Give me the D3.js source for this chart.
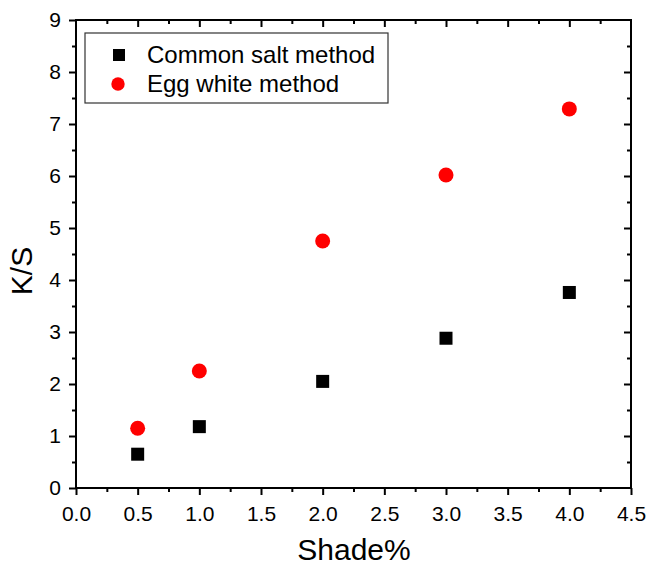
<!DOCTYPE html>
<html>
<head>
<meta charset="utf-8">
<script src="https://cdn.jsdelivr.net/npm/d3@7"></script>
<style>
body { margin: 0; background: #fff; }
text { font-family: "Liberation Sans", Arial, sans-serif; }
</style>
</head>
<body>
<script>
var shade = [0.5, 1, 2, 3, 4];
var saltKS = [0.65, 1.18, 2.05, 2.88, 3.76];
var eggKS = [1.15, 2.25, 4.75, 6.02, 7.29];
var seriesNames = ["Common salt method", "Egg white method"];
var xTicks = [0, 0.5, 1, 1.5, 2, 2.5, 3, 3.5, 4, 4.5];
var yTicks = [0, 1, 2, 3, 4, 5, 6, 7, 8, 9];

var width = 646, height = 567;
var plotL = 76, plotR = 631, plotT = 20, plotB = 488;

var svg = d3.select("body").append("svg")
    .attr("width", width)
    .attr("height", height);

var x = d3.scaleLinear().domain([0, 4.5]).range([plotL, plotR]);
var y = d3.scaleLinear().domain([0, 9]).range([plotB, plotT]);

var xMinor = d3.range(0.25, 4.5, 0.5);
var yMinor = d3.range(0.5, 9, 1);

// frame
svg.append("rect")
  .attr("x", plotL).attr("y", plotT)
  .attr("width", plotR - plotL).attr("height", plotB - plotT)
  .style("fill", "none").style("stroke", "#000").style("stroke-width", 2);

function axisG(axis, tx, ty) {
  var g = svg.append("g").attr("transform", "translate(" + tx + "," + ty + ")").call(axis);
  g.select(".domain").remove();
  g.selectAll("line").style("stroke", "#000").style("stroke-width", 2);
  g.selectAll("text").style("font-size", "21px").style("fill", "#000")
    .style("font-family", "'Liberation Sans', Arial, sans-serif");
  return g;
}

// bottom
axisG(d3.axisBottom(x).tickValues(xTicks).tickFormat(d3.format(".1f")).tickSize(7).tickPadding(11), 0, plotB);
axisG(d3.axisBottom(x).tickValues(xMinor).tickFormat("").tickSize(4), 0, plotB);
// left
axisG(d3.axisLeft(y).tickValues(yTicks).tickSize(7).tickPadding(8), plotL, 0);
axisG(d3.axisLeft(y).tickValues(yMinor).tickFormat("").tickSize(4), plotL, 0);
// top (inward)
axisG(d3.axisBottom(x).tickValues(xTicks.slice(1, -1)).tickFormat("").tickSize(7), 0, plotT);
axisG(d3.axisBottom(x).tickValues(xMinor).tickFormat("").tickSize(4), 0, plotT);
// right (inward)
axisG(d3.axisLeft(y).tickValues(yTicks.slice(1, -1)).tickFormat("").tickSize(7), plotR, 0);
axisG(d3.axisLeft(y).tickValues(yMinor).tickFormat("").tickSize(4), plotR, 0);

// titles
svg.append("text").attr("x", 354).attr("y", 560)
  .attr("text-anchor", "middle").style("font-size", "30px").text("Shade%");
svg.append("text").attr("transform", "translate(32,271) rotate(-90)")
  .attr("text-anchor", "middle").style("font-size", "30px").text("K/S");

// data
var salt = shade.map(function (s, i) { return { x: s, y: saltKS[i] }; });
var egg = shade.map(function (s, i) { return { x: s, y: eggKS[i] }; });

svg.append("g").selectAll("rect").data(salt).enter().append("rect")
  .attr("x", function (d) { return x(d.x) - 6.5; })
  .attr("y", function (d) { return y(d.y) - 6.5; })
  .attr("width", 13).attr("height", 13)
  .style("fill", "#000");

svg.append("g").selectAll("circle").data(egg).enter().append("circle")
  .attr("cx", function (d) { return x(d.x); })
  .attr("cy", function (d) { return y(d.y); })
  .attr("r", 7.5)
  .style("fill", "#ff0000");

// legend
var lg = svg.append("g");
lg.append("rect").attr("x", 85).attr("y", 33).attr("width", 303).attr("height", 70)
  .style("fill", "#fff").style("stroke", "#333").style("stroke-width", 1.2);
lg.append("rect").attr("x", 113).attr("y", 49).attr("width", 12).attr("height", 12).style("fill", "#000");
lg.append("circle").attr("cx", 118).attr("cy", 84).attr("r", 6.7).style("fill", "#ff0000");
lg.append("text").attr("x", 147).attr("y", 63).style("font-size", "24px").text(seriesNames[0]);
lg.append("text").attr("x", 147).attr("y", 92).style("font-size", "24px").text(seriesNames[1]);
</script>
</body>
</html>
